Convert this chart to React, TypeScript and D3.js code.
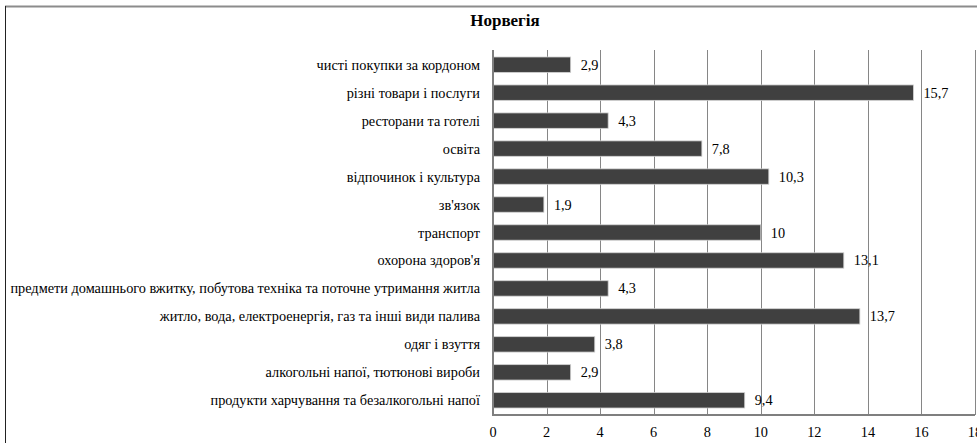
import React from "react";
import * as d3 from "d3";

const WIDTH = 977;
const HEIGHT = 443;
const MARGIN = { top: 50, right: 2, bottom: 28, left: 493 };

const categories = [
  "чисті покупки за кордоном",
  "різні товари і послуги",
  "ресторани та готелі",
  "освіта",
  "відпочинок і культура",
  "зв'язок",
  "транспорт",
  "охорона здоров'я",
  "предмети домашнього вжитку, побутова техніка та поточне утримання житла",
  "житло, вода, електроенергія, газ та інші види палива",
  "одяг і взуття",
  "алкогольні напої, тютюнові вироби ",
  "продукти харчування та безалкогольні напої",
];

const values = [2.9, 15.7, 4.3, 7.8, 10.3, 1.9, 10, 13.1, 4.3, 13.7, 3.8, 2.9, 9.4];

const xTicks = [0, 2, 4, 6, 8, 10, 12, 14, 16, 18];

const FONT = "Liberation Serif";

const App = () => {
  const boundsWidth = WIDTH - MARGIN.left - MARGIN.right;
  const boundsHeight = HEIGHT - MARGIN.top - MARGIN.bottom;

  const xScale = d3.scaleLinear().domain([0, 18]).range([0, boundsWidth]);
  const yScale = d3
    .scaleBand()
    .domain(categories)
    .range([0, boundsHeight])
    .paddingInner(0.45)
    .paddingOuter(0.25);

  const fmt = (v: number) => String(v).replace(".", ",");

  return (
    <div style={{ position: "absolute", left: 0, top: 0 }}>
      <svg width={WIDTH} height={HEIGHT} style={{ display: "block" }}>
        <rect x={0} y={0} width={WIDTH} height={HEIGHT} fill="#fff" />
        {/* outer frame */}
        <line x1={5} x2={WIDTH} y1={6.5} y2={6.5} stroke="#8c8c8c" strokeWidth={2} />
        <line x1={5.5} x2={5.5} y1={6} y2={HEIGHT} stroke="#222" strokeWidth={1} />

        <text
          x={505}
          y={26}
          textAnchor="middle"
          fontWeight="bold"
          fontSize={17}
          fontFamily={FONT}
        >
          Норвегія
        </text>

        <g transform={`translate(${MARGIN.left},${MARGIN.top})`}>
          {/* gridlines */}
          {xTicks.slice(1).map((t) => (
            <line
              key={t}
              x1={Math.round(xScale(t)) + 0.5}
              x2={Math.round(xScale(t)) + 0.5}
              y1={0}
              y2={boundsHeight}
              stroke="#868686"
              strokeWidth={1}
            />
          ))}

          {/* bars */}
          {categories.map((c, i) => (
            <rect
              key={c}
              x={0}
              y={yScale(c)}
              width={xScale(values[i])}
              height={yScale.bandwidth()}
              fill="#404040"
              stroke="#d0d0d0"
              strokeWidth={0.8}
            />
          ))}

          {/* value labels */}
          {categories.map((c, i) => (
            <text
              key={c}
              x={xScale(values[i]) + 10}
              y={(yScale(c) ?? 0) + yScale.bandwidth() / 2}
              dominantBaseline="central"
              fontSize={14.3}
              fill="#000"
              fontFamily={FONT}
            >
              {fmt(values[i])}
            </text>
          ))}

          {/* category labels */}
          {categories.map((c) => (
            <text
              key={c}
              x={-13}
              y={(yScale(c) ?? 0) + yScale.bandwidth() / 2}
              textAnchor="end"
              dominantBaseline="central"
              fontSize={14.3}
              fill="#000"
              fontFamily={FONT}
            >
              {c}
            </text>
          ))}

          {/* axes */}
          <line x1={0} x2={0} y1={0} y2={boundsHeight + 1} stroke="#7f7f7f" strokeWidth={2} />
          <line x1={-1} x2={boundsWidth} y1={boundsHeight} y2={boundsHeight} stroke="#7f7f7f" strokeWidth={2} />

          {xTicks.map((t) => (
            <text
              key={t}
              x={xScale(t)}
              y={boundsHeight + 17}
              textAnchor="middle"
              dominantBaseline="central"
              fontSize={14.3}
              fill="#000"
              fontFamily={FONT}
            >
              {t}
            </text>
          ))}
        </g>
      </svg>
    </div>
  );
};

export default App;
